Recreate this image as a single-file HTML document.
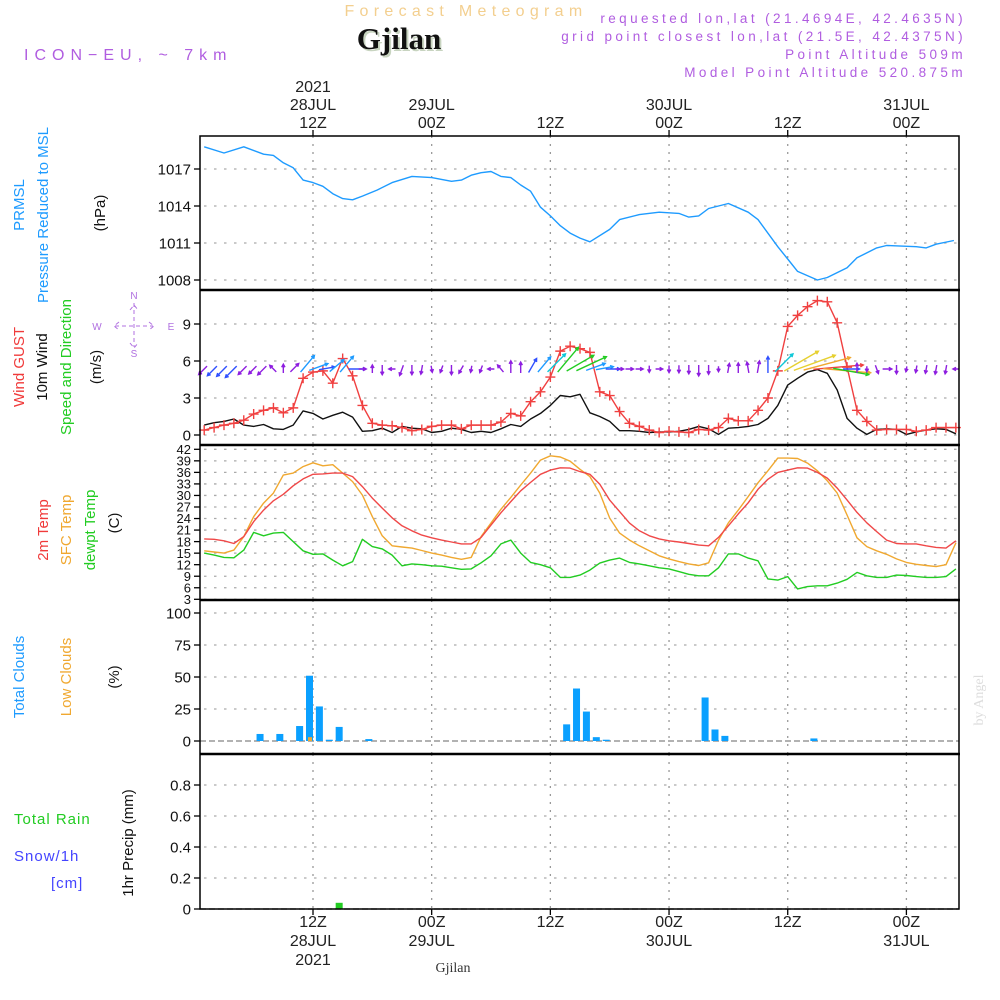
<!DOCTYPE html>
<html><head><meta charset="utf-8">
<style>
html,body{margin:0;padding:0;background:#fff;}
svg{display:block;font-family:"Liberation Sans",sans-serif;}
</style></head>
<body>
<svg id="chart" width="1000" height="1000" viewBox="0 0 1000 1000" xmlns="http://www.w3.org/2000/svg">
<rect width="1000" height="1000" fill="#fff"/>
<g>
<text x="466" y="16" text-anchor="middle" font-size="16" letter-spacing="5.3" fill="#f3cf8f">Forecast Meteogram</text>
<text x="401" y="51" text-anchor="middle" font-size="31" font-weight="bold" font-family="Liberation Serif,serif" fill="#c8d4c0">Gjilan</text>
<text x="399" y="49" text-anchor="middle" font-size="31" font-weight="bold" font-family="Liberation Serif,serif" fill="#111">Gjilan</text>
<text x="24" y="60" font-size="16" letter-spacing="6" fill="#b05de0">ICON−EU, ~ 7km</text>
<g font-size="13.5" fill="#b05de0" text-anchor="end" letter-spacing="3.4">
<text x="966" y="23">requested lon,lat (21.4694E, 42.4635N)</text>
<text x="966" y="41">grid point closest lon,lat (21.5E, 42.4375N)</text>
<text x="966" y="59">Point Altitude 509m</text>
<text x="966" y="77">Model Point Altitude 520.875m</text>
</g>
</g>
<g font-size="15">
<text transform="translate(24,205) rotate(-90)" text-anchor="middle" fill="#1e9bff">PRMSL</text>
<text transform="translate(48,215) rotate(-90)" text-anchor="middle" fill="#1e9bff">Pressure Reduced to MSL</text>
<text transform="translate(105,213) rotate(-90)" text-anchor="middle" fill="#111">(hPa)</text>
<text transform="translate(24,367) rotate(-90)" text-anchor="middle" fill="#f03a3a">Wind GUST</text>
<text transform="translate(47,367) rotate(-90)" text-anchor="middle" fill="#111">10m Wind</text>
<text transform="translate(71,367) rotate(-90)" text-anchor="middle" fill="#22cc22">Speed and Direction</text>
<text transform="translate(101,367) rotate(-90)" text-anchor="middle" fill="#111">(m/s)</text>
<text transform="translate(48,530) rotate(-90)" text-anchor="middle" fill="#f03a3a">2m Temp</text>
<text transform="translate(71,530) rotate(-90)" text-anchor="middle" fill="#f0a830">SFC Temp</text>
<text transform="translate(95,530) rotate(-90)" text-anchor="middle" fill="#22cc22">dewpt Temp</text>
<text transform="translate(119,523) rotate(-90)" text-anchor="middle" fill="#111">(C)</text>
<text transform="translate(24,677) rotate(-90)" text-anchor="middle" fill="#1e9bff">Total Clouds</text>
<text transform="translate(71,677) rotate(-90)" text-anchor="middle" fill="#f0a830">Low Clouds</text>
<text transform="translate(119,677) rotate(-90)" text-anchor="middle" fill="#111">(%)</text>
<text transform="translate(133,843) rotate(-90)" text-anchor="middle" fill="#111">1hr Precip (mm)</text>
<text x="14" y="824" fill="#22cc22" letter-spacing="1">Total  Rain</text>
<text x="14" y="861" fill="#4444ff" letter-spacing="1">Snow/1h</text>
<text x="51" y="888" fill="#4444ff" letter-spacing="1">[cm]</text>
<text transform="translate(983,700) rotate(-90)" text-anchor="middle" font-family="Liberation Serif,serif" font-size="14" fill="#dddddd">by Angel</text>
</g>
<g fill="#b070e0" stroke="#b070e0" font-size="10">
<text x="134" y="299" text-anchor="middle" stroke="none">N</text>
<text x="97" y="330" text-anchor="middle" stroke="none">W</text>
<text x="171" y="330" text-anchor="middle" stroke="none">E</text>
<text x="134" y="357" text-anchor="middle" stroke="none">S</text>
<path d="M134 303 V347 M115 326 H153 M130 310 L134 305 L138 310 M130 343 L134 348 L138 343 M119 322 L114 326 L119 330 M149 322 L154 326 L149 330" fill="none" stroke-width="1" stroke-dasharray="4,3"/>
</g>
<g id="plot"></g>
</svg>
<script>
// ---- data (hours since 00Z 28JUL 2021) ----
const pressureHours = [1,3,5,7,8,9,10,11,12,13,14,15,16,17,18.5,20,22,24,26,27,28,29,30,31,32,33,34,35,36,37,38,39,40,42,43,45,47,49,50,51,52,54,56,57,59,60,61,63,64,66,67,69,70,73,74,75,76.8];
const pressureValues = [1018.8,1018.3,1018.8,1018.2,1018.1,1017.5,1017.1,1016.1,1015.9,1015.6,1015.0,1014.6,1014.5,1014.8,1015.3,1015.9,1016.4,1016.3,1016.0,1016.1,1016.5,1016.7,1016.8,1016.4,1016.3,1015.7,1015.2,1013.9,1013.2,1012.4,1011.8,1011.4,1011.1,1012.1,1012.9,1013.3,1013.5,1013.4,1013.1,1013.2,1013.8,1014.2,1013.5,1012.9,1010.7,1009.7,1008.7,1008.0,1008.2,1009.0,1009.8,1010.6,1010.8,1010.7,1010.6,1010.9,1011.2];
const hourlyHours = Array.from({length:77},(_, i)=>i+1);
const gustValues = [0.4,0.6,0.8,0.95,1.2,1.7,2.0,2.2,1.8,2.2,4.6,5.1,5.2,4.2,6.2,4.8,2.4,0.95,0.8,0.75,0.6,0.35,0.45,0.7,0.8,0.8,0.5,0.8,0.8,0.8,1.05,1.75,1.55,2.7,3.5,4.7,6.8,7.2,7.0,6.7,3.5,3.2,1.9,0.95,0.7,0.4,0.2,0.3,0.25,0.2,0.45,0.4,0.6,1.35,1.15,1.15,2.0,3.0,5.2,8.8,9.7,10.4,10.9,10.8,9.1,5.5,2.0,1.1,0.4,0.45,0.45,0.45,0.3,0.4,0.6,0.6,0.6];
const windValues = [0.8,1.0,1.1,1.3,0.8,0.7,0.85,0.5,0.45,0.8,1.95,1.75,1.3,1.6,1.85,1.45,0.3,0.35,0.55,0.2,0.7,0.55,0.5,0.2,0.3,0.55,0.45,0.2,0.3,0.2,0.5,0.85,0.7,1.3,1.75,2.4,3.2,3.1,3.3,1.8,1.5,1.1,0.35,0.35,0.3,0.2,0.25,0.25,0.3,0.45,0.7,0.5,0.05,0.55,0.6,0.7,0.85,1.35,2.4,4.05,4.6,5.1,5.3,5.0,3.65,1.35,0.55,0.05,0.45,0.5,0.45,0.05,0.25,0.4,0.5,0.45,0.1];
const windDirections = [225,225,225,225,225,225,225,135,90,45,50,20,10,40,50,0,0,90,270,180,250,270,260,280,250,270,240,260,250,180,130,90,90,60,50,45,50,30,25,20,10,0,0,0,0,270,0,270,270,270,270,270,270,80,90,100,80,90,45,30,20,15,5,-5,-10,0,90,270,290,0,270,260,260,260,260,260,180];
const temp2mValues = [18.7,18.6,18.2,17.5,19.3,23.2,26.2,28.6,30.3,32.5,34.3,35.5,35.6,35.8,35.8,34.9,32.3,29.3,26.7,24.2,22.1,20.8,19.7,19.0,18.4,17.9,17.4,17.4,19.1,22.3,25.5,28.4,31.2,33.4,35.5,36.6,37.2,37.1,36.2,35.5,32.9,28.8,25.8,22.8,20.8,19.5,18.7,18.2,17.9,17.5,17.1,16.9,19.1,22.1,25.2,28.1,31.6,34.2,36.0,36.6,37.2,37.1,36.0,34.5,31.9,28.8,25.6,22.9,20.6,18.4,17.5,17.4,17.4,16.9,16.5,16.3,18.2];
const sfcTempValues = [15.6,15.3,15.0,15.8,19.3,24.5,28.0,30.6,35.3,35.8,37.5,38.5,37.7,38.0,35.8,33.6,30.1,24.5,19.5,16.9,16.6,16.3,15.7,15.0,14.5,13.9,13.4,13.9,19.3,22.8,26.4,29.5,32.7,35.8,39.2,40.3,40.0,38.9,36.8,34.9,30.6,24.1,20.2,18.4,16.9,15.6,14.3,13.5,12.8,12.2,11.8,12.5,18.4,22.9,26.2,29.7,33.3,36.4,39.7,39.7,39.6,38.4,36.4,33.8,30.6,24.9,19.0,16.7,15.6,14.7,13.5,12.6,12.1,11.8,11.5,12.0,17.7];
const dewptValues = [15.0,14.5,13.9,13.8,15.8,20.4,19.5,20.2,20.4,18.0,15.6,14.7,14.8,13.2,11.7,12.8,18.6,16.7,16.1,14.5,11.7,12.2,12.0,11.7,11.6,11.2,10.8,10.9,12.5,14.3,17.4,18.4,15.0,12.6,12.0,11.2,8.7,8.7,9.3,10.6,12.4,13.2,13.7,12.6,12.2,11.7,11.2,10.9,10.2,9.5,9.1,9.1,11.2,14.8,14.8,13.7,13.0,8.3,8.0,8.9,5.7,6.3,6.5,6.5,7.2,8.2,10.0,9.1,8.7,8.7,9.3,9.2,8.9,8.7,8.7,8.9,10.9];
const cloudHours = [7,9,11,12,13,14,15,18,38,39,40,41,42,52,53,54,63];
const cloudValues = [5.5,5.5,11.7,51,27,1,11,1.5,13,41,23,3,1,34,9,4,2];
const lowCloudHours = [12];
const lowCloudValues = [3];
const precipHours = [15];
const precipValues = [0.04];
const pressureTicks = [1008,1011,1014,1017];
const windTicks = [0,3,6,9];
const tempTicks = [3,6,9,12,15,18,21,24,27,30,33,36,39,42];
const cloudTicks = [0,25,50,75,100];
const precipTicks = [0,0.2,0.4,0.6,0.8];
const timeTickHours = [12,24,36,48,60,72];
const timeTopLabels = [["2021","28JUL","12Z"],["","29JUL","00Z"],["","","12Z"],["","30JUL","00Z"],["","","12Z"],["","31JUL","00Z"]];
const timeBottomLabels = [["12Z","28JUL","2021"],["00Z","29JUL",""],["12Z","",""],["00Z","30JUL",""],["12Z","",""],["00Z","31JUL",""]];

const NS="http://www.w3.org/2000/svg";
const plot=document.getElementById('plot');
function mk(tag,attrs,parent){const e=document.createElementNS(NS,tag);for(const k in attrs)e.setAttribute(k,attrs[k]);(parent||plot).appendChild(e);return e;}
const X0=200,X1=959;
function xH(h){return 313+(h-12)*9.89;}
function lin(v0,y0,v1,y1){return v=>y0+(v-v0)*(y1-y0)/(v1-v0);}
const yP=lin(1017,169,1008,280);
const yW=lin(0,435,9,324);
const yT=lin(42,449.3,3,599.3);
const yC=lin(0,741,100,613);
const yR=lin(0,909,0.8,785);
const panels=[{name:'pressure-panel',top:136,bot:290},{name:'wind-panel',top:290,bot:445},{name:'temp-panel',top:445,bot:600},{name:'cloud-panel',top:600,bot:754},{name:'precip-panel',top:754,bot:909}];

const grid=mk('g',{});


panels.forEach(p=>{timeTickHours.forEach(h=>{
  const l=mk('line',{x1:xH(h),x2:xH(h),y1:p.top,y2:p.bot,stroke:'#999','stroke-width':1.3,'stroke-dasharray':'2,6'},grid);
  
  
});});
function hgrid(ticks,fy,skip0){ticks.forEach(t=>{if(skip0&&t===0)return;
  const l=mk('line',{x1:X0+4,x2:X1,y1:fy(t),y2:fy(t),stroke:'#aaa','stroke-width':1.3,'stroke-dasharray':'2.5,7.5'},grid);
  
  
});}
hgrid(pressureTicks,yP);hgrid(windTicks,yW);hgrid(tempTicks,yT);hgrid(cloudTicks,yC,true);hgrid(precipTicks,yR,true);
[yC(0),yR(0)].forEach(y=>{const l=mk('line',{x1:X0,x2:X1,y1:y,y2:y,stroke:'#999','stroke-width':1.5,'stroke-dasharray':'6,3'},grid);
  
  });

function yaxis(ticks,fy,name,fmt,fs){const g=mk('g',{});
  
  
  ticks.forEach(t=>{mk('line',{x1:X0-6,x2:X0,y1:fy(t),y2:fy(t),stroke:'#000','stroke-width':1.3},g);
    const tx=mk('text',{x:X0-9,y:fy(t)+fs*0.36,'text-anchor':'end','font-size':fs,fill:'#111'},g);tx.textContent=fmt(t);});}
yaxis(pressureTicks,yP,'pressure-y-axis',t=>t,15);
yaxis(windTicks,yW,'wind-y-axis',t=>t,15);
yaxis(tempTicks,yT,'temp-y-axis',t=>t,13);
yaxis(cloudTicks,yC,'cloud-y-axis',t=>t,15);
yaxis(precipTicks,yR,'precip-y-axis',t=>t===0?'0':t.toFixed(1),15);

cloudHours.forEach((h,i)=>{const r=mk('rect',{x:xH(h)-7,y:yC(cloudValues[i]),width:7,height:yC(0)-yC(cloudValues[i]),fill:'#0aa0ff'});
  
  });
lowCloudHours.forEach((h,i)=>{const r=mk('rect',{x:xH(h)-5,y:yC(lowCloudValues[i]),width:4,height:yC(0)-yC(lowCloudValues[i]),fill:'#f0a830'});
  
  });
precipHours.forEach((h,i)=>{const r=mk('rect',{x:xH(h)-7,y:yR(precipValues[i]),width:7,height:yR(0)-yR(precipValues[i]),fill:'#22cc22'});
  
  });

function line(hours,vals,fy,color,name,w){const d=hours.map((h,i)=>(i?'L':'M')+xH(h).toFixed(1)+' '+fy(vals[i]).toFixed(1)).join(' ');
  const p=mk('path',{d:d,fill:'none',stroke:color,'stroke-width':w||1.4,'stroke-linejoin':'round'});
  
  return p;}
line(pressureHours,pressureValues,yP,'#1e9bff','pressure-line');
line(hourlyHours,windValues,yW,'#111','wind-speed-line');
line(hourlyHours,gustValues,yW,'#f04040','wind-gust-line');
hourlyHours.forEach((h,i)=>{const x=xH(h),y=yW(gustValues[i]);
  const m=mk('path',{d:`M${x-5} ${y}H${x+5}M${x} ${y-5}V${y+5}`,stroke:'#f04040','stroke-width':1.4});
  
  });
line(hourlyHours,sfcTempValues,yT,'#f0a830','sfc-temp-line');
line(hourlyHours,temp2mValues,yT,'#f04848','temp-2m-line');
line(hourlyHours,dewptValues,yT,'#22cc22','dewpt-line');

function spdColor(s){if(s<1)return '#8e1ee0';if(s<1.5)return '#3050ff';if(s<2)return '#1e9bff';if(s<3)return '#10c8d8';if(s<4)return '#22cc22';if(s<5)return '#e6d030';if(s<5.2)return '#f0a830';return '#f04040';}
hourlyHours.forEach((h,i)=>{const s=windValues[i],a=windDirections[i]*Math.PI/180;
  const L=5+s*8.5,off=Math.min(L/2,4);
  const ca=Math.cos(a),sa=Math.sin(a);
  const x0=xH(h)-off*ca,y0=369+off*sa;
  const x1=x0+L*ca,y1=y0-L*sa;
  const hl=3.5,ha=0.5,c=spdColor(s);
  const bx1=x1-hl*Math.cos(a-ha),by1=y1+hl*Math.sin(a-ha),bx2=x1-hl*Math.cos(a+ha),by2=y1+hl*Math.sin(a+ha);
  const p=mk('path',{d:`M${x0} ${y0}L${x1} ${y1}M${bx1} ${by1}L${x1} ${y1}L${bx2} ${by2}`,stroke:c,'stroke-width':1.4,fill:'none'});
  
  });

const frame=mk('g',{});


mk('rect',{x:X0,y:136,width:X1-X0,height:909-136,fill:'none',stroke:'#000','stroke-width':1.5},frame);
[290,445,600,754].forEach(y=>mk('line',{x1:X0,x2:X1+1,y1:y,y2:y,stroke:'#000','stroke-width':2.5},frame));

const tt=mk('g',{'font-size':16,fill:'#222','text-anchor':'middle'});


timeTickHours.forEach((h,i)=>{const x=xH(h);
  mk('line',{x1:x,x2:x,y1:130,y2:136,stroke:'#000','stroke-width':1.3},tt);
  mk('line',{x1:x,x2:x,y1:909,y2:915,stroke:'#000','stroke-width':1.3},tt);
  timeTopLabels[i].forEach((s,j)=>{if(!s)return;const t=mk('text',{x:x,y:92+j*18},tt);t.textContent=s;});
  timeBottomLabels[i].forEach((s,j)=>{if(!s)return;const t=mk('text',{x:x,y:927+j*19},tt);t.textContent=s;});
});
const gl=mk('text',{x:453,y:972,'text-anchor':'middle','font-size':14,'font-family':'Liberation Serif,serif',fill:'#333'});


gl.textContent='Gjilan';
</script>
</body></html>
